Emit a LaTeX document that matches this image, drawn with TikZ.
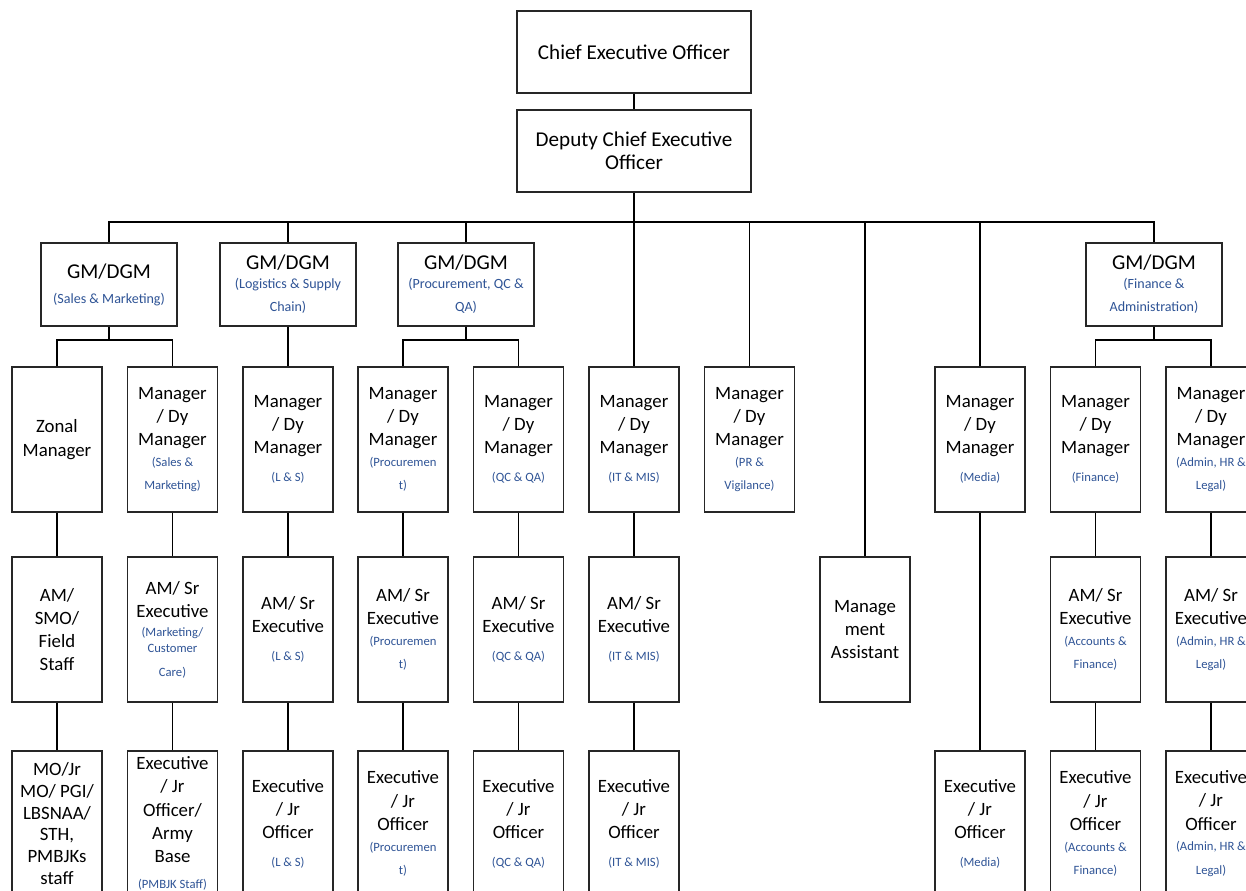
\documentclass[tikz,border=0pt]{standalone}
\usepackage{fontspec}
\setmainfont{Carlito}
\usepackage{tikz}
\definecolor{subblue}{RGB}{47,84,150}
\newcommand{\sub}[1]{{\color{subblue}\fontsize{7.2}{13.2}\selectfont #1}}
\newcommand{\gmsub}[1]{{\color{subblue}\fontsize{8}{13.1}\selectfont #1}}
\tikzset{
  box/.style={draw=black!85, line width=0.6pt, inner sep=0pt, align=center, font=\fontsize{10.7}{13.2}\selectfont},
  topbox/.style={box, minimum width=4.68cm, minimum height=1.64cm, font=\fontsize{12}{13.1}\selectfont},
  gmbox/.style={box, minimum width=2.72cm, minimum height=1.66cm, font=\fontsize{12}{13.1}\selectfont},
  rolebox/.style={box, minimum width=1.8cm, minimum height=2.9cm},
  link/.style={line width=1pt}
}

\begin{document}
\begin{tikzpicture}
\path[use as bounding box, fill=white] (0cm,0cm) rectangle (24.92cm,-17.8cm);
\clip (0cm,0cm) rectangle (24.92cm,-17.8cm);

\node[topbox] (ceo) at (12.68cm,-1.04cm) {Chief Executive Officer};
\node[topbox] (dceo) at (12.68cm,-3.02cm) {Deputy Chief Executive\\Officer};
\coordinate (bus) at (12.68cm,-4.44cm);
\coordinate (fork) at (0cm,-6.8cm);

\node[gmbox] (g1) at (2.18cm,-5.69cm) {GM/DGM\\[1.1pt]\gmsub{(Sales \& Marketing)}};
\node[gmbox] (g2) at (5.76cm,-5.69cm) {GM/DGM\\[-2.3pt]\gmsub{(Logistics \& Supply}\\\gmsub{Chain)}};
\node[gmbox] (g3) at (9.32cm,-5.69cm) {GM/DGM\\[-2.3pt]\gmsub{(Procurement, QC \&}\\\gmsub{QA)}};
\node[gmbox] (g4) at (23.08cm,-5.69cm) {GM/DGM\\[-2.3pt]\gmsub{(Finance \&}\\\gmsub{Administration)}};

\node[rolebox] (m1) at (1.14cm,-8.79cm) {Zonal\\Manager};
\node[rolebox] (m2) at (3.45cm,-8.79cm) {Manager\\/ Dy\\Manager\\[-1.4pt]\sub{(Sales \&}\\\sub{Marketing)}};
\node[rolebox] (m3) at (5.76cm,-8.79cm) {Manager\\/ Dy\\Manager\\[2.6pt]\sub{(L \& S)}};
\node[rolebox] (m4) at (8.06cm,-8.79cm) {Manager\\/ Dy\\Manager\\[-1.4pt]\sub{(Procuremen}\\\sub{t)}};
\node[rolebox] (m5) at (10.37cm,-8.79cm) {Manager\\/ Dy\\Manager\\[2.6pt]\sub{(QC \& QA)}};
\node[rolebox] (m6) at (12.68cm,-8.79cm) {Manager\\/ Dy\\Manager\\[2.6pt]\sub{(IT \& MIS)}};
\node[rolebox] (m7) at (14.99cm,-8.79cm) {Manager\\/ Dy\\Manager\\[-1.4pt]\sub{(PR \&}\\\sub{Vigilance)}};
\node[rolebox] (m8) at (19.6cm,-8.79cm) {Manager\\/ Dy\\Manager\\[2.6pt]\sub{(Media)}};
\node[rolebox] (m9) at (21.91cm,-8.79cm) {Manager\\/ Dy\\Manager\\[2.6pt]\sub{(Finance)}};
\node[rolebox] (m10) at (24.22cm,-8.79cm) {Manager\\/ Dy\\Manager\\[-1.4pt]\sub{(Admin, HR \&}\\\sub{Legal)}};

\node[rolebox] (s1) at (1.14cm,-12.59cm) {AM/\\SMO/\\Field\\Staff};
\node[rolebox] (s2) at (3.45cm,-12.59cm) {AM/ Sr\\Executive\\[-2.2pt]\sub{(Marketing/}\\[-4.1pt]\sub{Customer}\\\sub{Care)}};
\node[rolebox] (s3) at (5.76cm,-12.59cm) {AM/ Sr\\Executive\\[2.6pt]\sub{(L \& S)}};
\node[rolebox] (s4) at (8.06cm,-12.59cm) {AM/ Sr\\Executive\\[-1.4pt]\sub{(Procuremen}\\\sub{t)}};
\node[rolebox] (s5) at (10.37cm,-12.59cm) {AM/ Sr\\Executive\\[2.6pt]\sub{(QC \& QA)}};
\node[rolebox] (s6) at (12.68cm,-12.59cm) {AM/ Sr\\Executive\\[2.6pt]\sub{(IT \& MIS)}};
\node[rolebox] (ma) at (17.3cm,-12.59cm) {Manage\\ment\\Assistant};
\node[rolebox] (s9) at (21.91cm,-12.59cm) {AM/ Sr\\Executive\\[-1.4pt]\sub{(Accounts \&}\\\sub{Finance)}};
\node[rolebox] (s10) at (24.22cm,-12.59cm) {AM/ Sr\\Executive\\[-1.4pt]\sub{(Admin, HR \&}\\\sub{Legal)}};

\node[rolebox, font=\fontsize{10.7}{12.4}\selectfont] (e1) at (1.14cm,-16.47cm) {MO/Jr\\MO/ PGI/\\LBSNAA/\\STH,\\PMBJKs\\staff};
\node[rolebox] (e2) at (3.45cm,-16.47cm) {Executive\\/ Jr\\Officer/\\Army\\Base\\[1.6pt]\sub{(PMBJK Staff)}};
\node[rolebox] (e3) at (5.76cm,-16.47cm) {Executive\\/ Jr\\Officer\\[2.6pt]\sub{(L \& S)}};
\node[rolebox] (e4) at (8.06cm,-16.47cm) {Executive\\/ Jr\\Officer\\[-1.4pt]\sub{(Procuremen}\\\sub{t)}};
\node[rolebox] (e5) at (10.37cm,-16.47cm) {Executive\\/ Jr\\Officer\\[2.6pt]\sub{(QC \& QA)}};
\node[rolebox] (e6) at (12.68cm,-16.47cm) {Executive\\/ Jr\\Officer\\[2.6pt]\sub{(IT \& MIS)}};
\node[rolebox] (e8) at (19.6cm,-16.47cm) {Executive\\/ Jr\\Officer\\[2.6pt]\sub{(Media)}};
\node[rolebox] (e9) at (21.91cm,-16.47cm) {Executive\\/ Jr\\Officer\\[-1.4pt]\sub{(Accounts \&}\\\sub{Finance)}};
\node[rolebox] (e10) at (24.22cm,-16.47cm) {Executive\\/ Jr\\Officer\\[-1.4pt]\sub{(Admin, HR \&}\\\sub{Legal)}};

\draw[link] (ceo) -- (dceo);
\draw[link] (dceo.south) -- (m6.north);
\draw[link] (g1.north) -- (g1.north |- bus) -- (g4.north |- bus) -- (g4.north);
\draw[link] (g2.north) -- (g2.north |- bus);
\draw[link] (g3.north) -- (g3.north |- bus);
\draw[link] (m7.north) -- (m7.north |- bus);
\draw[link] (ma.north) -- (ma.north |- bus);
\draw[link] (m8.north) -- (m8.north |- bus);

\draw[link] (g1.south) -- (g1.south |- fork);
\draw[link] (m1.north) |- (m2.north |- fork) -- (m2.north);
\draw[link] (g2) -- (m3);
\draw[link] (g3.south) -- (g3.south |- fork);
\draw[link] (m4.north) |- (m5.north |- fork) -- (m5.north);
\draw[link] (g4.south) -- (g4.south |- fork);
\draw[link] (m9.north) |- (m10.north |- fork) -- (m10.north);

\draw[link] (m1) -- (s1);
\draw[link] (m2) -- (s2);
\draw[link] (m3) -- (s3);
\draw[link] (m4) -- (s4);
\draw[link] (m5) -- (s5);
\draw[link] (m6) -- (s6);
\draw[link] (m9) -- (s9);
\draw[link] (m10) -- (s10);
\draw[link] (m8) -- (e8);

\draw[link] (s1) -- (e1);
\draw[link] (s2) -- (e2);
\draw[link] (s3) -- (e3);
\draw[link] (s4) -- (e4);
\draw[link] (s5) -- (e5);
\draw[link] (s6) -- (e6);
\draw[link] (s9) -- (e9);
\draw[link] (s10) -- (e10);
\end{tikzpicture}
\end{document}
